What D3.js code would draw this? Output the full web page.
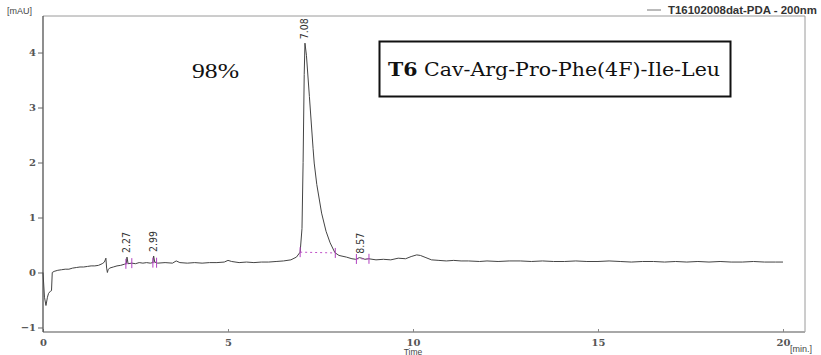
<!DOCTYPE html>
<html>
<head>
<meta charset="utf-8">
<script src="https://cdn.jsdelivr.net/npm/d3@7"></script>
<style>
  html, body { margin: 0; padding: 0; background: #fff; }
  svg { display: block; }
</style>
</head>
<body>
<svg id="chart" width="821" height="355"></svg>
<script>
// Chromatogram trace: retention time (min) and absorbance (mAU)
const times = [
  0, 0.04, 0.08, 0.12, 0.15, 0.2, 0.23, 0.25, 0.3, 0.4, 0.5, 0.6, 0.7, 0.8, 0.9,
  1.0, 1.1, 1.2, 1.3, 1.4, 1.5, 1.6, 1.66, 1.7, 1.72, 1.74, 1.76, 1.8, 1.9, 2.0,
  2.1, 2.2, 2.25, 2.27, 2.3, 2.4, 2.5, 2.6, 2.7, 2.8, 2.9, 2.97, 2.99, 3.02, 3.1,
  3.3, 3.5, 3.6, 3.7, 3.9, 4.1, 4.3, 4.5, 4.7, 4.9, 5.0, 5.1, 5.3, 5.5, 5.7, 5.9,
  6.1, 6.3, 6.5, 6.7, 6.85, 6.95, 7.0, 7.03, 7.06, 7.08, 7.12, 7.2, 7.3, 7.33,
  7.4, 7.53, 7.65, 7.76, 7.89, 8.0, 8.2, 8.35, 8.45, 8.55, 8.62, 8.7, 8.8, 9.0,
  9.2, 9.4, 9.6, 9.8, 9.95, 10.1, 10.2, 10.35, 10.5, 10.7, 10.9, 11.1, 11.3, 11.5,
  11.8, 12.0, 12.3, 12.6, 12.9, 13.2, 13.5, 13.8, 14.1, 14.4, 14.7, 15.0, 15.3,
  15.6, 15.9, 16.2, 16.5, 16.8, 17.1, 17.4, 17.7, 18.0, 18.3, 18.6, 18.9, 19.2,
  19.5, 19.8, 20.0
];
const absorbance = [
  0.0, -0.45, -0.6, -0.45, -0.38, -0.34, -0.33, 0.0, 0.02, 0.04, 0.05, 0.06, 0.06, 0.08, 0.09,
  0.1, 0.1, 0.11, 0.12, 0.12, 0.13, 0.16, 0.19, 0.26, 0.08, 0.0, 0.05, 0.08, 0.1, 0.12,
  0.13, 0.15, 0.16, 0.28, 0.16, 0.17, 0.16, 0.18, 0.17, 0.18, 0.17, 0.18, 0.3, 0.19, 0.17,
  0.18, 0.17, 0.21, 0.18, 0.17, 0.18, 0.17, 0.18, 0.18, 0.19, 0.22, 0.2, 0.18, 0.19, 0.18, 0.19,
  0.19, 0.2, 0.21, 0.23, 0.28, 0.37, 0.8, 2.0, 3.6, 4.17, 3.95, 3.2, 2.25, 1.99,
  1.6, 1.08, 0.75, 0.54, 0.36, 0.31, 0.28, 0.25, 0.24, 0.27, 0.26, 0.24, 0.25, 0.23,
  0.24, 0.23, 0.26, 0.25, 0.29, 0.32, 0.31, 0.27, 0.23, 0.22, 0.21, 0.22, 0.21, 0.21,
  0.2, 0.21, 0.2, 0.21, 0.21, 0.2, 0.21, 0.2, 0.2, 0.21, 0.2, 0.2, 0.21,
  0.2, 0.19, 0.2, 0.2, 0.19, 0.2, 0.19, 0.2, 0.19, 0.2, 0.19, 0.19, 0.2,
  0.19, 0.19, 0.19
];

// Integrated peaks: apex time (label), integration start/end, apex value
const peakLabels = ["2.27", "2.99", "7.08", "8.57"];
const peakTimes  = [2.27, 2.99, 7.08, 8.57];
const peakApex   = [0.28, 0.30, 4.17, 0.27];
const peakStart  = [2.24, 2.97, 6.95, 8.47];
const peakEnd    = [2.40, 3.07, 7.90, 8.81];

const xTicks = [0, 5, 10, 15, 20];
const yTicks = [-1, 0, 1, 2, 3, 4];

const seriesName = "T16102008dat-PDA - 200nm";
const purity = "98%";
const compoundId = "T6";
const compoundSeq = "Cav-Arg-Pro-Phe(4F)-Ile-Leu";

const svg = d3.select("#chart");
const plot = { left: 43, right: 805, top: 16, bottom: 332 };

const x = d3.scaleLinear().domain([0, 20.595]).range([plot.left, plot.right]);
const y = d3.scaleLinear().domain([-1.082, 4.664]).range([plot.bottom, plot.top]);

const labelFont = "'Liberation Sans', Arial, sans-serif";
const serifFont = "'DejaVu Serif', 'Liberation Serif', serif";

// frame: top and right edges
svg.append("path")
  .attr("d", `M${plot.left},${plot.top}H${plot.right}V${plot.bottom}`)
  .attr("fill", "none").attr("stroke", "#9a9a9a").attr("stroke-width", 1);

// bottom axis
const xAxis = svg.append("g").attr("transform", `translate(0,${plot.bottom})`)
  .call(d3.axisBottom(x).tickValues(xTicks).tickSize(-3).tickPadding(7).tickFormat(d3.format("d")));
xAxis.select(".domain").attr("stroke", "#a8a8a8").attr("stroke-width", 2)
  .attr("d", `M${plot.left},0H${plot.right}`);
xAxis.selectAll(".tick line").attr("stroke", "#888");
xAxis.selectAll(".tick text").attr("fill", "#555").attr("font-family", serifFont)
  .attr("font-size", 10).attr("font-weight", "bold");

// left axis
const yAxis = svg.append("g").attr("transform", `translate(${plot.left},0)`)
  .call(d3.axisLeft(y).tickValues(yTicks).tickSize(5).tickPadding(2).tickFormat(d3.format("d")));
yAxis.select(".domain").attr("stroke", "#444").attr("stroke-width", 1.2)
  .attr("d", `M0,${plot.top}V${plot.bottom}`);
yAxis.selectAll(".tick line").attr("stroke", "#666");
yAxis.selectAll(".tick text").attr("fill", "#555").attr("font-family", serifFont)
  .attr("font-size", 10).attr("font-weight", "bold");

// axis units
svg.append("text").attr("x", 7).attr("y", 14).text("[mAU]")
  .attr("font-family", labelFont).attr("font-size", 9).attr("fill", "#444");
svg.append("text").attr("x", x(10)).attr("y", 354.5).attr("text-anchor", "middle").text("Time")
  .attr("font-family", labelFont).attr("font-size", 8.5).attr("fill", "#444");
svg.append("text").attr("x", 790).attr("y", 352).text("[min.]")
  .attr("font-family", labelFont).attr("font-size", 9).attr("fill", "#444");

// trace
const pts = times.map((t, i) => [t, absorbance[i]]);
const line = d3.line().x(d => x(d[0])).y(d => y(d[1]));
svg.append("path").datum(pts).attr("d", line)
  .attr("fill", "none").attr("stroke", "#444").attr("stroke-width", 1);

// integration baselines and markers
const valueAt = t => {
  const i = d3.bisectLeft(times, t);
  if (i <= 0) return absorbance[0];
  if (i >= times.length) return absorbance[absorbance.length - 1];
  const t0 = times[i - 1], t1 = times[i];
  const f = (t - t0) / (t1 - t0);
  return absorbance[i - 1] + f * (absorbance[i] - absorbance[i - 1]);
};
const marks = svg.append("g");
peakTimes.forEach((pt, i) => {
  const s = peakStart[i], e = peakEnd[i];
  const vs = valueAt(s), ve = valueAt(e);
  marks.append("line")
    .attr("x1", x(s)).attr("y1", y(vs)).attr("x2", x(e)).attr("y2", y(ve))
    .attr("stroke", "#c050c8").attr("stroke-width", 1).attr("stroke-dasharray", "2,3");
  [[s, vs], [e, ve]].forEach(([t, v]) => {
    marks.append("line")
      .attr("x1", x(t)).attr("x2", x(t))
      .attr("y1", y(v) - 5).attr("y2", y(v) + 5)
      .attr("stroke", "#b040c0").attr("stroke-width", 1);
  });
  // rotated retention-time label
  svg.append("text")
    .attr("transform", `translate(${x(pt) + 3.5},${y(peakApex[i]) - 4}) rotate(-90)`)
    .attr("font-family", "'Liberation Sans Narrow', 'DejaVu Sans Condensed', Arial, sans-serif")
    .attr("font-size", 10.5).attr("fill", "#333")
    .text(peakLabels[i]);
});

// legend
svg.append("line").attr("x1", 647).attr("x2", 661).attr("y1", 10).attr("y2", 10)
  .attr("stroke", "#777").attr("stroke-width", 1);
svg.append("text").attr("x", 668).attr("y", 14).text(seriesName)
  .attr("font-family", labelFont).attr("font-size", 10).attr("font-weight", "bold").attr("fill", "#333")
  .attr("textLength", 149).attr("lengthAdjust", "spacingAndGlyphs");

// purity annotation
svg.append("text").attr("x", 192).attr("y", 78).text(purity)
  .attr("font-family", "'Liberation Serif', serif").attr("font-size", 21).attr("fill", "#111")
  .attr("textLength", 47).attr("lengthAdjust", "spacingAndGlyphs");

// compound box
svg.append("rect").attr("x", 379.5).attr("y", 41.5).attr("width", 351).attr("height", 55)
  .attr("fill", "#fff").attr("stroke", "#111").attr("stroke-width", 2);
const title = svg.append("text").attr("x", 388).attr("y", 76)
  .attr("font-family", serifFont).attr("font-size", 19).attr("fill", "#111");
title.append("tspan").attr("font-weight", "bold").text(compoundId);
title.append("tspan").text(" " + compoundSeq);
title.attr("textLength", 332).attr("lengthAdjust", "spacingAndGlyphs");
</script>
</body>
</html>
